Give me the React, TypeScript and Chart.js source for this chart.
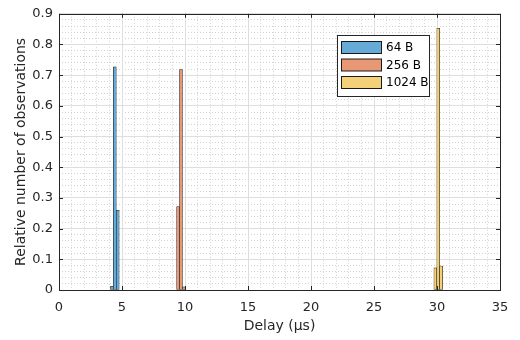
import React, { useEffect, useRef } from 'react';
import { Chart, registerables } from 'chart.js';

Chart.register(...registerables);

// ---- data ----
const seriesLabels = ['64 B', '256 B', '1024 B'];
const delays64 = [4.2, 4.43, 4.66];
const share64 = [0.012, 0.727, 0.26];
const delays256 = [9.45, 9.68, 9.91];
const share256 = [0.272, 0.718, 0.01];
const delays1024 = [29.87, 30.1, 30.33];
const share1024 = [0.072, 0.853, 0.078];
const seriesColors = ['rgb(102,170,215)', 'rgb(232,152,117)', 'rgb(244,208,121)'];

const xTickValues = [0, 5, 10, 15, 20, 25, 30, 35];
const xTickLabels = ['0', '5', '10', '15', '20', '25', '30', '35'];
const yTickValues = [0, 0.1, 0.2, 0.3, 0.4, 0.5, 0.6, 0.7, 0.8, 0.9];
const yTickLabels = ['0', '0.1', '0.2', '0.3', '0.4', '0.5', '0.6', '0.7', '0.8', '0.9'];
const xTitle = 'Delay (μs)';
const yTitle = 'Relative number of observations';

const FONT = 'DejaVu Sans';
const AXIS = '#262626';

const frameLegendPlugin = {
  id: 'matlabFrame',
  afterDraw(chart: any) {
    const { ctx, chartArea: a, scales } = chart;
    ctx.save();
    ctx.strokeStyle = AXIS;
    ctx.lineWidth = 1;
    const tl = 4;
    ctx.beginPath();
    scales.x.ticks.forEach((t: any) => {
      const px = Math.round(scales.x.getPixelForValue(t.value)) + 0.5;
      ctx.moveTo(px, a.bottom);
      ctx.lineTo(px, a.bottom - tl);
      ctx.moveTo(px, a.top);
      ctx.lineTo(px, a.top + tl);
    });
    scales.y.ticks.forEach((t: any) => {
      const py = Math.round(scales.y.getPixelForValue(t.value)) + 0.5;
      ctx.moveTo(a.left, py);
      ctx.lineTo(a.left + tl, py);
      ctx.moveTo(a.right, py);
      ctx.lineTo(a.right - tl, py);
    });
    ctx.stroke();
    ctx.strokeRect(
      Math.round(a.left) + 0.5,
      Math.round(a.top) + 0.5,
      Math.round(a.right - a.left),
      Math.round(a.bottom - a.top)
    );
    // legend
    const lx = 337.5, ly = 35.5, lw = 92, lh = 61;
    ctx.fillStyle = '#ffffff';
    ctx.fillRect(lx, ly, lw, lh);
    ctx.strokeStyle = AXIS;
    ctx.strokeRect(lx, ly, lw, lh);
    ctx.font = `12px "${FONT}"`;
    ctx.textBaseline = 'middle';
    ctx.textAlign = 'left';
    chart.data.datasets.forEach((ds: any, i: number) => {
      const rowTop = 41 + i * 17.5;
      ctx.fillStyle = ds.backgroundColor;
      ctx.fillRect(341.5, rowTop + 0.5, 40, 12);
      ctx.strokeStyle = '#1a1a1a';
      ctx.strokeRect(341.5, rowTop + 0.5, 40, 12);
      ctx.fillStyle = '#000000';
      ctx.fillText(ds.label, 386, rowTop + 7);
    });
    ctx.restore();
  },
};

function makeSeries(label: string, xs: number[], ys: number[], color: string) {
  return {
    label,
    data: xs.map((x, i) => ({ x, y: ys[i] })),
    backgroundColor: color,
    borderColor: '#1a1a1a',
    borderWidth: 0.6,
    borderSkipped: false,
    barPercentage: 1,
    categoryPercentage: 1,
    grouped: false,
  };
}

export default function App() {
  const ref = useRef<HTMLCanvasElement | null>(null);

  useEffect(() => {
    document.body.style.margin = '0';
    const canvas = ref.current;
    if (!canvas) return;
    const chart = new Chart(canvas, {
      type: 'bar',
      data: {
        datasets: [
          makeSeries(seriesLabels[0], delays64, share64, seriesColors[0]),
          makeSeries(seriesLabels[1], delays256, share256, seriesColors[1]),
          makeSeries(seriesLabels[2], delays1024, share1024, seriesColors[2]),
        ] as any,
      },
      options: {
        responsive: false,
        animation: false,
        devicePixelRatio: 1,
        events: [],
        layout: { padding: { top: 9, right: 20, left: 0, bottom: 0 } },
        plugins: { legend: { display: false }, tooltip: { enabled: false } },
        scales: {
          x: {
            type: 'linear',
            min: 0,
            max: 35,
            offset: false,
            afterBuildTicks: (s: any) => {
              s.ticks = xTickValues.map((v) => ({ value: v }));
            },
            ticks: {
              autoSkip: false,
              maxRotation: 0,
              padding: 10,
              color: AXIS,
              font: { family: FONT, size: 13 },
              callback: (_v: any, i: number) => xTickLabels[i],
            },
            grid: { color: '#dedede', drawTicks: false, offset: false, z: 0 },
            border: { display: false },
            title: {
              display: true,
              text: xTitle,
              color: AXIS,
              font: { family: FONT, size: 14 },
              padding: { top: 0, bottom: 4.9 },
            },
            afterFit: (s: any) => {
              s.height = 50;
            },
          },
          y: {
            type: 'linear',
            min: 0,
            max: 0.9,
            afterBuildTicks: (s: any) => {
              s.ticks = yTickValues.map((v) => ({ value: v }));
            },
            ticks: {
              padding: 6,
              color: AXIS,
              font: { family: FONT, size: 13 },
              callback: (_v: any, i: number) => yTickLabels[i],
            },
            grid: { color: '#dedede', drawTicks: false, z: 0 },
            border: { display: false },
            title: {
              display: true,
              text: yTitle,
              color: AXIS,
              font: { family: FONT, size: 14 },
              padding: { top: 12.6, bottom: 0 },
            },
            afterFit: (s: any) => {
              s.width = 59;
            },
          },
          xMinor: {
            type: 'linear',
            position: 'bottom',
            min: 0,
            max: 35,
            offset: false,
            ticks: { display: false, stepSize: 1 },
            grid: { color: '#d2d2d2', drawTicks: false, offset: false, z: -1 },
            border: { display: false, dash: [1, 2] },
            afterFit: (s: any) => {
              s.height = 0;
            },
          },
          yMinor: {
            type: 'linear',
            position: 'left',
            min: 0,
            max: 0.9,
            ticks: { display: false, stepSize: 0.02 },
            grid: { color: '#d2d2d2', drawTicks: false, z: -1 },
            border: { display: false, dash: [1, 2] },
            afterFit: (s: any) => {
              s.width = 0;
            },
          },
        } as any,
      },
      plugins: [frameLegendPlugin],
    });
    return () => chart.destroy();
  }, []);

  return (
    <div style={{ width: 520, height: 340, background: '#fff' }}>
      <canvas ref={ref} width={520} height={340} />
    </div>
  );
}
